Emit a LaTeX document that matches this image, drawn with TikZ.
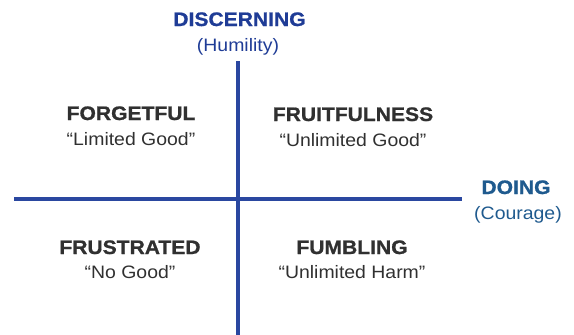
\documentclass[tikz,border=0pt]{standalone}
\usepackage{fontspec}
\setmainfont{Liberation Sans}[FakeStretch=1.08,BoldFeatures={FakeBold=0.9}]
\definecolor{axisblue}{HTML}{2A47A0}
\definecolor{topblue}{HTML}{1F3C96}
\definecolor{sideblue}{HTML}{1F5A8E}
\definecolor{quadgray}{HTML}{303030}
\begin{document}
\begin{tikzpicture}[x=1pt,y=-1pt,
  axis/.style={draw=axisblue,line width=3.2pt},
  heading/.style={anchor=base,inner sep=0pt,font=\fontsize{19.5}{22}\selectfont\bfseries},
  sub/.style={anchor=base,inner sep=0pt,font=\fontsize{18}{22}\selectfont}]
  \useasboundingbox (0,0) rectangle (574,335);
  % axes
  \coordinate (top) at (238,61);
  \coordinate (bottom) at (238,335);
  \coordinate (left) at (14,199);
  \coordinate (right) at (462,199);
  \draw[axis] (top) -- (bottom);
  \draw[axis] (left) -- (right);
  % axis labels
  \node[heading,text=topblue] (discern) at (239.5,26) {DISCERNING};
  \node[sub,text=topblue] (humility) at (238,51) {(Humility)};
  \node[heading,text=sideblue] (doing) at (516,194) {DOING};
  \node[sub,text=sideblue] (courage) at (518,219) {(Courage)};
  % quadrants
  \node[heading,text=quadgray] (forget) at (131,120) {FORGETFUL};
  \node[sub,text=quadgray] (limited) at (131,145) {“Limited Good”};
  \node[heading,text=quadgray] (fruit) at (353,121) {FRUITFULNESS};
  \node[sub,text=quadgray] (unlimited) at (353,146) {“Unlimited Good”};
  \node[heading,text=quadgray] (frust) at (130,254) {FRUSTRATED};
  \node[sub,text=quadgray] (nogood) at (130,278) {“No Good”};
  \node[heading,text=quadgray] (fumble) at (352,254) {FUMBLING};
  \node[sub,text=quadgray] (harm) at (352,278) {“Unlimited Harm”};
\end{tikzpicture}
\end{document}
